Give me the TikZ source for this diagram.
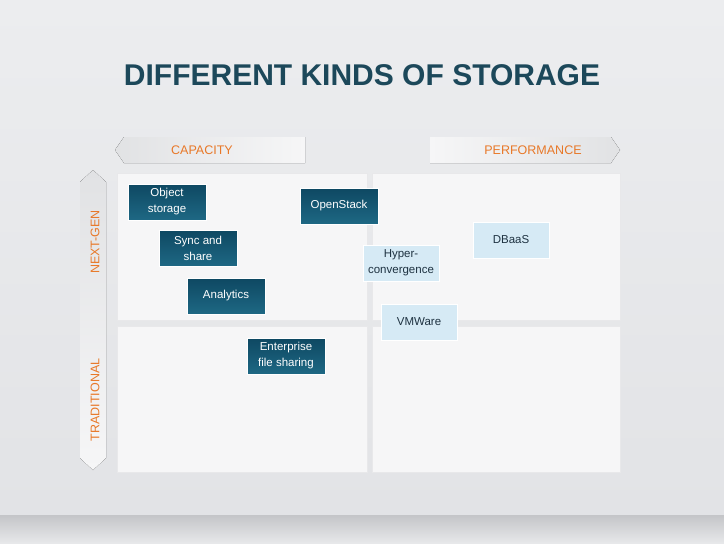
\documentclass[tikz,border=0pt]{standalone}
\usepackage{fontspec}
\setmainfont{Liberation Sans}
\begin{document}
\begin{tikzpicture}[x=1pt,y=-1pt,
  dbox/.style={draw=white,line width=0.6pt,top color={rgb,255:red,14;green,72;blue,98},bottom color={rgb,255:red,30;green,104;blue,132},minimum width=78pt,minimum height=36pt,text=white,font=\fontsize{11.5}{16}\selectfont,align=center,inner sep=1pt},
  lbox/.style={draw=white,line width=0.6pt,fill={rgb,255:red,214;green,234;blue,245},minimum width=76pt,minimum height=36pt,text={rgb,255:red,30;green,50;blue,65},font=\fontsize{11.5}{16}\selectfont,align=center,inner sep=1pt},
  quad/.style={fill={rgb,255:red,246;green,246;blue,247},draw={rgb,255:red,232;green,232;blue,234},line width=1pt},
  lab/.style={text={rgb,255:red,232;green,120;blue,40},font=\fontsize{12.5}{14}\selectfont}]
\useasboundingbox (0,0) rectangle (724,544);
\fill[top color={rgb,255:red,236;green,237;blue,239},bottom color={rgb,255:red,226;green,227;blue,230}] (0,0) rectangle (724,515);
\fill[top color={rgb,255:red,196;green,197;blue,200},bottom color={rgb,255:red,232;green,233;blue,235}] (0,515) rectangle (724,544);
\node[font=\bfseries\fontsize{30}{33}\selectfont,text={rgb,255:red,28;green,72;blue,90}] (title) at (362,75) {DIFFERENT KINDS OF STORAGE};
% banners
\fill[left color={rgb,255:red,225;green,226;blue,228},right color={rgb,255:red,246;green,246;blue,247}] (115,150) -- (124,137) -- (305,137) -- (305,163) -- (124,163) -- cycle;
\node[lab] (cap) at (202,150) {CAPACITY};
\fill[right color={rgb,255:red,225;green,226;blue,228},left color={rgb,255:red,246;green,246;blue,247}] (430,137) -- (611,137) -- (620,150) -- (611,163) -- (430,163) -- cycle;
\node[lab] (perf) at (533,150) {PERFORMANCE};
\fill[top color={rgb,255:red,225;green,226;blue,228},bottom color={rgb,255:red,246;green,246;blue,247}] (93,170) -- (106,182) -- (106,458) -- (93,470) -- (80,458) -- (80,182) -- cycle;
\node[lab,rotate=90] (ng) at (95,242) {NEXT-GEN};
\node[lab,rotate=90] (tr) at (95,400) {TRADITIONAL};
% quadrants
\draw[quad] (117,173) rectangle (367,320);
\draw[quad] (372,173) rectangle (620,320);
\draw[quad] (117,326) rectangle (367,472);
\draw[quad] (372,326) rectangle (620,472);
% boxes
\node[dbox] (obj) at (167,202) {Object\\storage};
\node[dbox] (sync) at (198,248) {Sync and\\share};
\node[dbox] (ana) at (226,296) {Analytics};
\node[dbox] (os) at (339,206) {OpenStack};
\node[dbox] (ent) at (286,356) {Enterprise\\file sharing};
\node[lbox] (hyp) at (401,263) {Hyper-\\convergence};
\node[lbox] (db) at (511,240) {DBaaS};
\node[lbox] (vm) at (419,322) {VMWare};
\end{tikzpicture}
\end{document}
